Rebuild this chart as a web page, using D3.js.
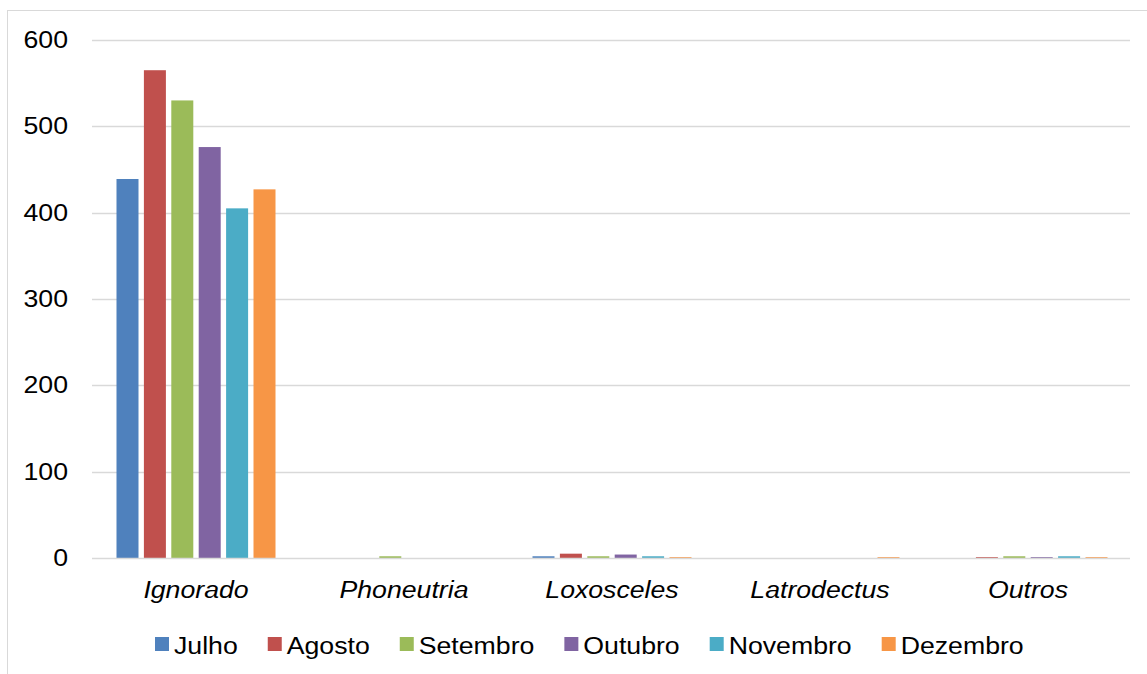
<!DOCTYPE html>
<html>
<head>
<meta charset="utf-8">
<script src="https://cdn.jsdelivr.net/npm/d3@7"></script>
<style>
  body { margin: 0; background: #fff; }
  text { font-family: "Liberation Sans", Arial, sans-serif; fill: #000; }
</style>
</head>
<body>
<svg id="chart" width="1147" height="674"></svg>
<script>
// DATA
var categories = ["Ignorado", "Phoneutria", "Loxosceles", "Latrodectus", "Outros"];
var months = ["Julho", "Agosto", "Setembro", "Outubro", "Novembro", "Dezembro"];
var julho    = [439, 0, 2, 0, 0];
var agosto   = [565, 0, 5, 0, 1];
var setembro = [530, 2, 2, 0, 2];
var outubro  = [476, 0, 4, 0, 1];
var novembro = [405, 0, 2, 0, 2];
var dezembro = [427, 0, 1, 1, 1];
var yTicks = [0, 100, 200, 300, 400, 500, 600];
var colors = ["#4F81BD", "#C0504D", "#9BBB59", "#8064A2", "#4BACC6", "#F79646"];

var series = [julho, agosto, setembro, outubro, novembro, dezembro];
var fontSize = "23px";
var stretch = "scale(1.16,1)";   // text in the picture is a bit wider than Arial

var svg = d3.select("#chart");

// CHART FRAME
svg.append("rect")
  .attr("x", 7.5).attr("y", 10.5)
  .attr("width", 1160).attr("height", 700)
  .style("fill", "none").style("stroke", "#d9d9d9");

// SCALES
var x = d3.scaleBand().domain(categories).range([92, 1132]);
var xInner = d3.scaleBand().domain(months).range([0, x.bandwidth()])
  .paddingInner(0.197).paddingOuter(0.894);
var y = d3.scaleLinear().domain([0, 600]).range([558, 40]);

// GRIDLINES
svg.append("g").selectAll("line")
  .data(yTicks.filter(function(d) { return d > 0; }))
  .enter().append("line")
  .attr("x1", 92).attr("x2", 1130)
  .attr("y1", function(d) { return Math.round(y(d)) + 0.5; })
  .attr("y2", function(d) { return Math.round(y(d)) + 0.5; })
  .style("stroke", "#d9d9d9").style("stroke-width", 1.5);

// Y AXIS LABELS
var yAxis = d3.axisLeft(y).tickValues(yTicks).tickSize(0).tickPadding(0);
var yg = svg.append("g").attr("transform", "translate(68,0)").call(yAxis);
yg.select(".domain").remove();
yg.selectAll("text")
  .attr("font-family", null)
  .style("font-family", "'Liberation Sans', Arial, sans-serif")
  .style("font-size", fontSize)
  .attr("x", 0).attr("dy", "0.33em")
  .attr("transform", stretch);

// BARS
var groups = svg.append("g").selectAll("g")
  .data(series).enter().append("g")
  .style("fill", function(d, i) { return colors[i]; })
  .attr("data-month", function(d, i) { return months[i]; });

groups.each(function(vals, i) {
  d3.select(this).selectAll("rect")
    .data(vals).enter().append("rect")
    .attr("x", function(d, j) { return x(categories[j]) + xInner(months[i]); })
    .attr("width", xInner.bandwidth())
    .attr("y", function(d) { return y(d); })
    .attr("height", function(d) { return y(0) - y(d); });
});

// BASELINE
svg.append("line")
  .attr("x1", 92).attr("x2", 1130).attr("y1", 558.5).attr("y2", 558.5)
  .style("stroke", "#d9d9d9").style("stroke-width", 1.5);

// X AXIS LABELS
var xAxis = d3.axisBottom(x).tickSize(0).tickPadding(0);
var xg = svg.append("g").attr("transform", "translate(0,598)").call(xAxis);
xg.select(".domain").remove();
xg.selectAll("text")
  .attr("font-family", null)
  .style("font-family", "'Liberation Sans', Arial, sans-serif")
  .style("font-size", fontSize).style("font-style", "italic")
  .attr("y", 0).attr("dy", 0)
  .attr("transform", stretch);

// LEGEND
var legend = svg.append("g").attr("class", "legend");
var lx = 155;
months.forEach(function(m, i) {
  var item = legend.append("g").attr("transform", "translate(" + lx + ",0)");
  item.append("rect")
    .attr("x", 0).attr("y", 637).attr("width", 14).attr("height", 14)
    .style("fill", colors[i]);
  var t = item.append("g").attr("transform", "translate(19,654) " + stretch)
    .append("text")
    .style("font-size", fontSize)
    .text(m);
  lx += 19 + t.node().getComputedTextLength() * 1.16 + 30;
});
</script>
</body>
</html>
